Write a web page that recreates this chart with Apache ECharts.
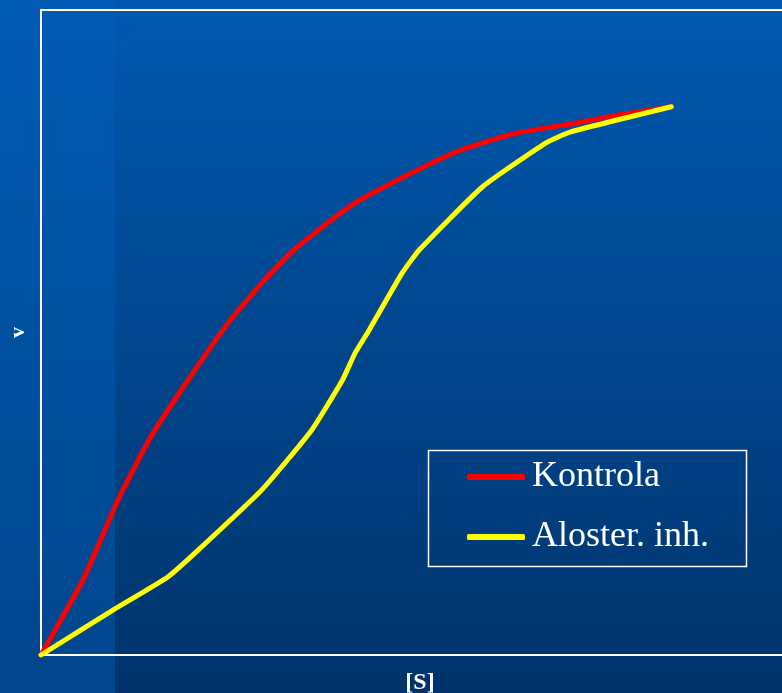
<!DOCTYPE html>
<html>
<head>
<meta charset="utf-8">
<script src="https://cdn.jsdelivr.net/npm/echarts@6/dist/echarts.min.js"></script>
<style>
  html, body { margin: 0; padding: 0; }
  #chart { width: 782px; height: 693px; }
</style>
</head>
<body>
<div id="chart"></div>
<script>
// series names
const seriesNames = ['Kontrola', 'Aloster. inh.'];

// [S] values (arbitrary units, 0-100 across the plot)
const kontrolaX = [0, 5.7, 10.3, 14.7, 19.7, 25.1, 29.6, 33.6, 38.1, 42.1, 48.4, 55.2, 59.2, 63.7, 72.3, 77.2, 84.5];
const kontrolaV = [0, 11.8, 24.0, 33.8, 42.6, 51.5, 57.7, 62.5, 66.7, 70.1, 74.0, 77.8, 79.4, 80.9, 82.6, 83.7, 85.0];

const alosterX = [0, 9.7, 17.0, 21.1, 29.6, 36.3, 40.4, 42.1, 44.0, 48.4, 50.7, 59.2, 67.7, 71.0, 84.5];
const alosterV = [0, 7.0, 12.1, 16.3, 25.6, 34.9, 42.6, 46.8, 50.4, 59.2, 62.8, 72.6, 79.4, 81.1, 85.0];

const serifFont = "'Liberation Serif', 'Times New Roman', serif";

function zip(xs, ys) {
  return xs.map((x, i) => [x, ys[i]]);
}

const chart = echarts.init(document.getElementById('chart'));

const option = {
  animation: false,
  backgroundColor: {
    type: 'linear', x: 0, y: 0, x2: 0, y2: 1,
    colorStops: [
      { offset: 0, color: '#0059B0' },
      { offset: 1, color: '#00336B' }
    ]
  },
  graphic: [
    {
      // lighter strip on the left edge
      type: 'rect',
      z: -10,
      silent: true,
      shape: { x: 0, y: 0, width: 115, height: 693 },
      style: {
        fill: {
          type: 'linear', x: 0, y: 0, x2: 0, y2: 1,
          colorStops: [
            { offset: 0, color: '#005BB5' },
            { offset: 1, color: '#00468C' }
          ]
        }
      }
    },
    {
      // legend frame
      type: 'rect',
      z: 5,
      silent: true,
      shape: { x: 428.5, y: 450.5, width: 318, height: 116 },
      style: { fill: 'transparent', stroke: '#ffffff', lineWidth: 1.5 }
    }
  ],
  grid: {
    show: true,
    left: 41,
    top: 10,
    right: -5,
    bottom: 38,
    containLabel: false,
    outerBoundsMode: 'none',
    borderColor: '#ffffff',
    borderWidth: 2,
    backgroundColor: 'transparent'
  },
  legend: {
    orient: 'vertical',
    left: 467,
    top: 459,
    padding: 0,
    itemWidth: 58,
    itemHeight: 6,
    itemGap: 24,
    icon: 'roundRect',
    textStyle: {
      color: '#ffffff',
      fontFamily: serifFont,
      fontSize: 36,
      lineHeight: 36,
      padding: [0, 0, 0, 2]
    },
    data: seriesNames
  },
  xAxis: {
    type: 'value',
    min: 0,
    max: 100,
    name: '[S]',
    nameLocation: 'middle',
    nameGap: 16,
    nameTextStyle: {
      color: '#ffffff',
      fontFamily: serifFont,
      fontWeight: 'bold',
      fontSize: 24,
      padding: [0, 0, 0, 12]
    },
    axisLine: { show: false },
    axisTick: { show: false },
    axisLabel: { show: false },
    splitLine: { show: false }
  },
  yAxis: {
    type: 'value',
    min: 0,
    max: 100,
    name: 'v',
    nameLocation: 'middle',
    nameGap: 12,
    nameTextStyle: {
      color: '#ffffff',
      fontFamily: serifFont,
      fontWeight: 'bold',
      fontSize: 22
    },
    axisLine: { show: false },
    axisTick: { show: false },
    axisLabel: { show: false },
    splitLine: { show: false }
  },
  series: [
    {
      name: seriesNames[0],
      type: 'line',
      smooth: 0.15,
      showSymbol: false,
      symbol: 'none',
      z: 3,
      color: '#FF0000',
      lineStyle: { color: '#FF0000', width: 5, cap: 'round', join: 'round' },
      data: zip(kontrolaX, kontrolaV)
    },
    {
      name: seriesNames[1],
      type: 'line',
      smooth: 0.15,
      showSymbol: false,
      symbol: 'none',
      z: 4,
      color: '#FFFF00',
      lineStyle: { color: '#FFFF00', width: 5, cap: 'round', join: 'round' },
      data: zip(alosterX, alosterV)
    }
  ]
};

chart.setOption(option);
</script>
</body>
</html>
